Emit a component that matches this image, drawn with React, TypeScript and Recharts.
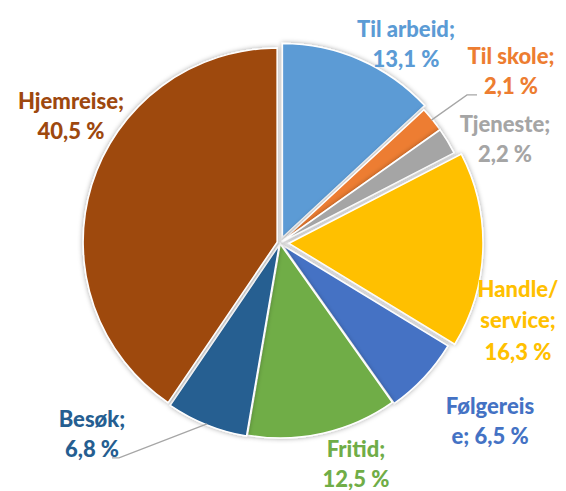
import React from 'react';
import { PieChart, Pie, Sector } from 'recharts';

const categories = ['Til arbeid', 'Til skole', 'Tjeneste', 'Handle/service', 'Følgereise', 'Fritid', 'Besøk', 'Hjemreise'];
const shares = [13.1, 2.1, 2.2, 16.3, 6.5, 12.5, 6.8, 40.5];
const labelText = [
  ['Til arbeid;', '13,1 %'],
  ['Til skole;', '2,1 %'],
  ['Tjeneste;', '2,2 %'],
  ['Handle/', 'service;', '16,3 %'],
  ['Følgereis', 'e; 6,5 %'],
  ['Fritid;', '12,5 %'],
  ['Besøk;', '6,8 %'],
  ['Hjemreise;', '40,5 %'],
];

const colors = ['#5B9BD5', '#ED7D31', '#A5A5A5', '#FFC000', '#4472C4', '#70AD47', '#255E91', '#9E480E'];
const explode = [6, 2, 2, 9, 3, 1, 2, 3];
// label first-line centre relative to pie centre
const labelPos = [
  [126, -215],
  [231, -188],
  [225, -120],
  [238, 45],
  [210, 162],
  [76, 205],
  [-188, 175],
  [-209, -143],
];
const lineGap = 30;

const data = categories.map((name, i) => ({ name, value: shares[i] }));

const RAD = Math.PI / 180;

const idxOf = (props: any) => {
  const name = props?.payload?.name ?? props?.name;
  return categories.indexOf(name);
};

const SliceShape = (props: any) => {
  const i = idxOf(props);
  const d = explode[i] ?? 0;
  const mid = props.midAngle;
  const dx = d * Math.cos(-mid * RAD);
  const dy = d * Math.sin(-mid * RAD);
  return (
    <g>
      <defs>
        <filter id={`sh${i}`} x="-20%" y="-20%" width="140%" height="140%">
          <feDropShadow dx="0" dy="0" stdDeviation="2.4" floodColor="#000" floodOpacity="0.35" />
        </filter>
      </defs>
      <Sector
        cx={props.cx + dx}
        cy={props.cy + dy}
        innerRadius={0}
        outerRadius={props.outerRadius}
        startAngle={props.startAngle}
        endAngle={props.endAngle}
        fill={colors[i]}
        stroke="#ffffff"
        strokeWidth={1.5}
        filter={`url(#sh${i})`}
      />
    </g>
  );
};

const renderLabel = (props: any) => {
  const i = idxOf(props);
  if (i < 0) return null;
  const { cx, cy, midAngle, outerRadius } = props;
  const [lx, ly] = labelPos[i];
  const x = cx + lx;
  const y = cy + ly;
  const lines = labelText[i];
  const gap = i === 3 ? 31.5 : lineGap;
  let leader = null;
  if (i === 1 || i === 6) {
    const sx = cx + (outerRadius + 1) * Math.cos(-midAngle * RAD);
    const sy = cy + (outerRadius + 1) * Math.sin(-midAngle * RAD);
    const ey = y + gap * 1.33;
    const ex = i === 1 ? x - 34 : x + 20;
    const kx = i === 1 ? ex - 10 : ex + 7;
    leader = (
      <polyline points={`${sx},${sy} ${kx},${ey} ${ex},${ey}`} fill="none" stroke="#A6A6A6" strokeWidth={1.3} />
    );
  }
  return (
    <g key={`l${i}`}>
      {leader}
      <text
        x={x}
        y={y}
        fill={colors[i]}
        textAnchor="middle"
        fontFamily="Lato, 'Open Sans', sans-serif"
        fontWeight={900}
        fontSize={22}
      >
        {lines.map((t, k) => (
          <tspan key={k} x={x} y={y + k * gap} dominantBaseline="central">
            {t}
          </tspan>
        ))}
      </text>
    </g>
  );
};

export default function App() {
  return (
    <div style={{ position: 'absolute', left: 0, top: 0, width: 566, height: 491, background: '#fff' }}>
      <PieChart width={566} height={491} margin={{ top: 0, right: 0, bottom: 0, left: 0 }}>
        <Pie
          data={data}
          dataKey="value"
          nameKey="name"
          cx={280}
          cy={243}
          outerRadius={194}
          startAngle={90}
          endAngle={-270}
          isAnimationActive={false}
          shape={SliceShape}
          label={renderLabel}
          labelLine={false}
        />
      </PieChart>
    </div>
  );
}
